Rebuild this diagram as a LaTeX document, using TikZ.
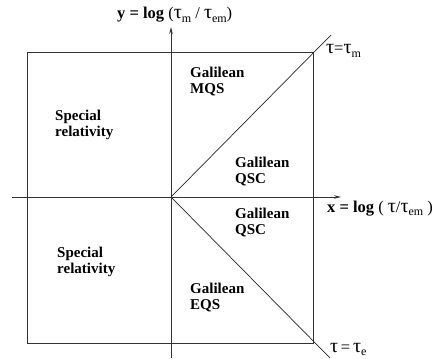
\documentclass[tikz,border=0pt]{standalone}
\usepackage{fontspec}
\setmainfont{Liberation Serif}
\usetikzlibrary{arrows.meta}
\newcommand{\tsub}[1]{\raisebox{-0.4ex}{\fontsize{12}{12}\selectfont #1}}
\newcommand{\tauch}{{\fontsize{20}{20}\selectfont τ}}

\tikzset{
  region/.style={font=\fontsize{15}{16}\selectfont\bfseries, align=left, anchor=north west, inner sep=0pt},
  axislabel/.style={font=\fontsize{16.5}{18}\selectfont, inner sep=0pt, anchor=base west},
  frame/.style={line width=1pt, black!80},
  axis/.style={line width=0.9pt, black!80, -{Stealth[length=7pt,width=3.5pt]}},
  bound/.style={line width=0.7pt, black!85},
}

\begin{document}
\begin{tikzpicture}[x=1pt, y=-1pt]
  \useasboundingbox (0,0) rectangle (435,358);
  % Box
  \draw[frame] (27,53) rectangle (313,343);
  % Axes
  \coordinate (O) at (171,197);
  \coordinate (xl) at (12,197);
  \coordinate (xr) at (341,197);
  \coordinate (yb) at (171,358);
  \coordinate (yt) at (171,27);
  \draw[axis] (xl) -- (xr);
  \draw[axis] (yb) -- (yt);
  % Boundaries tau = tau_m and tau = tau_e
  \coordinate (tm) at (331,35);
  \coordinate (te) at (330,358);
  \draw[bound] (O) -- (tm);
  \draw[bound] (O) -- (te);
  % Labels
  \node[axislabel] (ylab) at (117,19) {\textbf{y = log} (\tauch\tsub{m} / \tauch\tsub{em})};
  \node[axislabel] (xlab) at (327,212) {\textbf{x = log} ( \tauch/\tauch\tsub{em} )};
  \node[axislabel] (tmlab) at (326,54) {\tauch=\tauch\tsub{m}};
  \node[axislabel] (telab) at (330,352) {\tauch\,=\,\tauch\tsub{e}};
  % Regions
  \node[region] (mqs) at (190,67) {Galilean\\MQS};
  \node[region] (qscu) at (235,157) {Galilean\\QSC};
  \node[region] (qscl) at (235,208) {Galilean\\QSC};
  \node[region] (eqs) at (190,283) {Galilean\\EQS};
  \node[region] (sru) at (55,110) {Special\\relativity};
  \node[region] (srl) at (57,247) {Special\\relativity};
\end{tikzpicture}
\end{document}
